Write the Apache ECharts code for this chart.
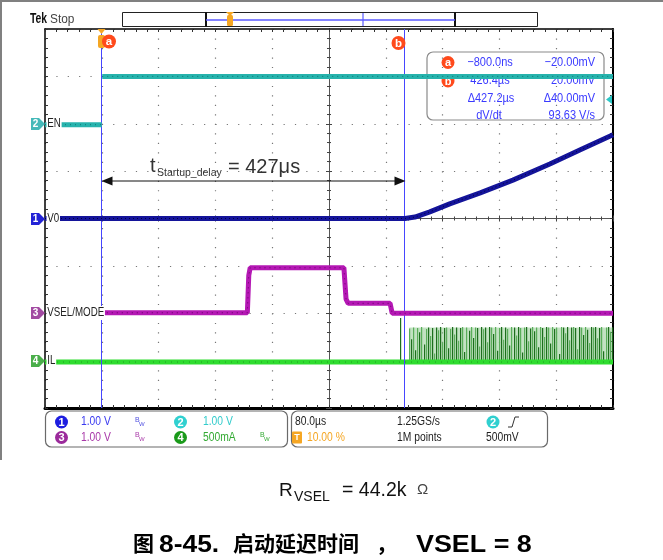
<!DOCTYPE html>
<html>
<head>
<meta charset="utf-8">
<title>启动延迟时间，VSEL = 8</title>
<style>
html, body {margin: 0; padding: 0; background: #fff;}
#main {width: 663px; height: 560px;}
</style>
</head>
<body>
<div id="main"></div>
<script src="https://cdn.jsdelivr.net/npm/echarts@6/dist/echarts.min.js"></script>
<script>
// time in µs from the trigger (80 µs/div), vertical in scope divisions
var timeMin = -80, timeMax = 720, timeDiv = 80;
var divMin = -4, divMax = 4;

var cursorA = -0.8;     // µs
var cursorB = 426.4;    // µs

// CH2 EN (fast edge, not drawn by the scope)
var enT = [-80, 0, 0.3, 0.6, 720];
var enV = [1.98, 1.98, '-', 3.0, 3.0];
// CH1 V0
var v0T = [-80, 427, 441, 462, 490, 533, 579, 631, 674, 720];
var v0V = [0, 0, 0.03, 0.14, 0.31, 0.54, 0.81, 1.15, 1.45, 1.77];
// CH3 VSEL/MODE
var vselT = [0, 205, 207, 209, 341, 344, 347, 406, 409, 720];
var vselV = [-1.99, -1.99, -1.2, -1.04, -1.04, -1.7, -1.79, -1.79, -2.0, -2.0];
// CH4 IL
var ilLevel = -3.03;
var ilT = [-80, 720];
var ilV = [ilLevel, ilLevel];
var ilKickT = 420, ilKickV = -2.1;
var ilSwStart = 433, ilSwEnd = 720, ilSwTop = -2.3, ilSwStep = 2.88;
var ilPeaks = [
  -2.32, -2.55, -2.30, -2.78, -2.31, -2.40, -2.29, -2.66, -2.33, -2.30,
  -2.48, -2.31, -2.85, -2.30, -2.36, -2.29, -2.62, -2.31, -2.30, -2.74,
  -2.33, -2.29, -2.45, -2.30, -2.58, -2.31, -2.29, -2.82, -2.30, -2.37,
  -2.29, -2.52, -2.30, -2.31, -2.70, -2.29, -2.34, -2.30, -2.61, -2.29,
  -2.30, -2.44, -2.29, -2.79, -2.31, -2.29, -2.56, -2.30, -2.33, -2.68,
  -2.29, -2.30, -2.47, -2.29, -2.31, -2.83, -2.30, -2.29, -2.59, -2.32,
  -2.29, -2.38, -2.30, -2.72, -2.29, -2.31, -2.50, -2.29, -2.30, -2.64,
  -2.29, -2.33, -2.30, -2.86, -2.29, -2.30, -2.42, -2.29, -2.57, -2.30,
  -2.29, -2.31, -2.76, -2.29, -2.30, -2.46, -2.29, -2.35, -2.63, -2.29,
  -2.30, -2.29, -2.53, -2.31, -2.29, -2.80, -2.30, -2.29, -2.39, -2.30
];

var cBlue = '#14149a', cTeal = '#27b3ad', cMag = '#b418b4', cGreen = '#2fdc2f';
var ilLight = '#5aae5a', ilDark = '#1d6e1d';
var sans = '"Liberation Sans", Arial, sans-serif';
var cjk = '"Noto Sans CJK SC", sans-serif';

function pairs(t, v) { return t.map(function (x, i) { return [x, v[i]]; }); }

var ilSpikes = ilPeaks.map(function (p, i) { return [ilSwStart + i * ilSwStep, p, i]; });
ilSpikes.push([ilKickT, ilKickV, 1]);

var chart = echarts.init(document.getElementById('main'));

function xAx(o) {
  return Object.assign({
    type: 'value', min: timeMin, max: timeMax, interval: timeDiv,
    axisLabel: {show: false},
    axisLine: {onZero: false, lineStyle: {color: '#000', width: 1.5}},
    axisTick: {show: true, inside: true, length: 3, lineStyle: {color: '#333'}},
    minorTick: {show: true, splitNumber: 5, length: 3, lineStyle: {color: '#333'}},
    splitLine: {show: false}
  }, o);
}
function yAx(o) {
  return Object.assign({
    type: 'value', min: divMin, max: divMax, interval: 1,
    axisLabel: {show: false},
    axisLine: {onZero: false, lineStyle: {color: '#000', width: 1.5}},
    axisTick: {show: true, inside: true, length: 3, lineStyle: {color: '#333'}},
    minorTick: {show: true, splitNumber: 5, length: 3, lineStyle: {color: '#333'}},
    splitLine: {show: false}
  }, o);
}
var centerTick = {show: true, splitNumber: 5, length: 2, lineStyle: {color: '#444'}};

var option = {
  animation: false,
  backgroundColor: '#fff',
  grid: {left: 45, top: 29, width: 568, height: 379},
  xAxis: [
    xAx({position: 'bottom', axisLine: {onZero: false, lineStyle: {color: '#000', width: 3}},
      splitLine: {show: true, lineStyle: {color: '#777', width: 1.2, type: [1.2, 8.28]}}}),
    xAx({position: 'top'}),
    xAx({position: 'bottom', axisLine: {onZero: true, lineStyle: {color: '#555', width: 1}},
      minorTick: centerTick, axisTick: {inside: true, length: 3, lineStyle: {color: '#444'}}}),
    xAx({position: 'bottom', axisLine: {onZero: true, lineStyle: {color: '#555', width: 1}},
      minorTick: centerTick, axisTick: {inside: false, length: 3, lineStyle: {color: '#444'}}}),
    {type: 'value', min: -400, max: 400, show: false}
  ],
  yAxis: [
    yAx({position: 'left', splitLine: {show: true, lineStyle: {color: '#777', width: 1.2, type: [1.2, 10.16]}}}),
    yAx({position: 'right', axisLine: {onZero: false, lineStyle: {color: '#000', width: 2}}}),
    yAx({position: 'left', axisLine: {onZero: true, onZeroAxisIndex: 4, lineStyle: {color: '#555', width: 1}},
      minorTick: centerTick, axisTick: {inside: true, length: 3, lineStyle: {color: '#444'}}}),
    yAx({position: 'left', axisLine: {onZero: true, onZeroAxisIndex: 4, lineStyle: {color: '#555', width: 1}},
      minorTick: centerTick, axisTick: {inside: false, length: 3, lineStyle: {color: '#444'}}})
  ],
  series: [
    {
      name: 'IL switching', type: 'custom', z: 3, data: ilSpikes,
      renderItem: function (params, api) {
        var top = api.coord([api.value(0), api.value(1)]);
        var bot = api.coord([api.value(0), ilLevel]);
        return {type: 'rect', shape: {x: Math.round(top[0]), y: top[1], width: 1.2, height: bot[1] - top[1]},
          style: {fill: api.value(2) % 2 ? ilDark : ilLight}};
      }
    },
    {name: 'IL', type: 'line', z: 4, data: pairs(ilT, ilV), showSymbol: false, lineStyle: {color: cGreen, width: 5},
      markArea: {silent: true, itemStyle: {color: 'rgba(120,190,120,0.45)'},
        data: [[{coord: [ilSwStart, ilSwTop]}, {coord: [ilSwEnd, ilLevel]}]]}},
    {name: 'IL dots', type: 'line', z: 4, data: pairs(ilT, ilV), showSymbol: false, lineStyle: {color: '#1f9a1f', width: 1, type: [1, 5]}},
    {name: 'VSEL', type: 'line', z: 5, data: pairs(vselT, vselV), showSymbol: false, lineStyle: {color: cMag, width: 5}},
    {name: 'VSEL dots', type: 'line', z: 5, data: pairs(vselT, vselV), showSymbol: false, lineStyle: {color: '#6a006a', width: 1, type: [1, 4]}},
    {name: 'V0', type: 'line', z: 6, data: pairs(v0T, v0V), showSymbol: false, lineStyle: {color: cBlue, width: 5}},
    {name: 'V0 dots', type: 'line', z: 6, data: pairs(v0T, v0V), showSymbol: false, lineStyle: {color: '#000040', width: 1, type: [1, 3]}},
    {name: 'EN', type: 'line', z: 7, data: pairs(enT, enV), showSymbol: false, connectNulls: false, lineStyle: {color: cTeal, width: 5}},
    {name: 'EN dots', type: 'line', z: 7, data: pairs(enT, enV), showSymbol: false, connectNulls: false, lineStyle: {color: '#0d7a76', width: 1, type: [1, 4]}},
    {
      name: 'cursors', type: 'line', z: 9, data: [],
      markLine: {silent: true, symbol: 'none', label: {show: false},
        lineStyle: {color: '#4646ff', width: 1, type: 'solid'},
        data: [{xAxis: cursorA}, {xAxis: cursorB}]}
    }
  ]
};
chart.setOption(option);

function px(t, v) { return chart.convertToPixel({xAxisIndex: 0, yAxisIndex: 0}, [t, v]); }
// text helper; sx < 1 gives the scope's condensed look
function T(x, y, s, size, fill, align, opt) {
  opt = opt || {};
  var st = {text: s, fill: fill, font: (opt.weight || 'normal') + ' ' + size + 'px ' + (opt.family || sans),
    textAlign: align || 'left', align: align || 'left', textVerticalAlign: 'middle', verticalAlign: 'middle'};
  if (opt.bg) { st.backgroundColor = opt.bg; st.padding = [1, 1, 0, 1]; }
  return {type: 'text', x: x, y: y, z: opt.z || 20, silent: true, scaleX: opt.sx || 1, style: st};
}
function circ(cx, cy, r, fill, z) { return {type: 'circle', z: z || 20, silent: true, shape: {cx: cx, cy: cy, r: r}, style: {fill: fill}}; }
function ln(x1, y1, x2, y2, stroke, w, z) {
  return {type: 'line', z: z || 20, silent: true, shape: {x1: x1, y1: y1, x2: x2, y2: y2}, style: {stroke: stroke, lineWidth: w}};
}
function badge(cx, cy, r, fill, s, size, z) {
  return [circ(cx, cy, r, fill, z), T(cx, cy + 0.5, s, size, '#fff', 'center', {weight: 'bold', z: (z || 20) + 1})];
}

var g = [];
// outer frame
g.push(ln(0, 1, 663, 1, '#808080', 2, 1));
g.push(ln(1, 0, 1, 460, '#808080', 2, 1));

// header
g.push(T(30, 19, 'Tek', 14, '#111', 'left', {weight: 'bold', sx: 0.74}));
g.push(T(50, 19.5, 'Stop', 12.5, '#444', 'left', {sx: 0.95}));
g.push({type: 'rect', z: 20, silent: true, shape: {x: 122.5, y: 12.5, width: 415, height: 14}, style: {fill: 'none', stroke: '#222', lineWidth: 1}});
g.push(ln(206, 12, 206, 27, '#111', 2));
g.push(ln(455, 12, 455, 27, '#111', 2));
g.push(ln(206, 20, 455, 20, '#5a5aff', 1.5));
g.push(ln(363, 13, 363, 26, '#5a5aff', 1.2));
g.push({type: 'rect', z: 21, silent: true, shape: {x: 227, y: 15, width: 6, height: 11, r: 1.5}, style: {fill: '#f5a623'}});
g.push({type: 'polygon', z: 21, silent: true, shape: {points: [[226, 12], [234, 12], [230, 16]]}, style: {fill: '#f5a623'}});

// trigger / cursor badges in plot
var pa = px(cursorA, 0), pb = px(cursorB, 0);
var xa = Math.round(pa[0]) + 0.5, xb = Math.round(pb[0]) + 0.5;
g.push({type: 'polygon', z: 21, silent: true, shape: {points: [[xa - 4, 29], [xa + 4, 29], [xa, 34]]}, style: {fill: '#f5a623'}});
g.push({type: 'rect', z: 21, silent: true, shape: {x: xa - 3.5, y: 35, width: 7, height: 13, r: 2}, style: {fill: '#f5a623'}});
g = g.concat(badge(xa + 7.5, 41.5, 7, '#ff4a1c', 'a', 11.5, 22));
g = g.concat(badge(xb - 7, 43, 7, '#ff4a1c', 'b', 11.5, 22));

// measurement readout
g.push({type: 'rect', z: 1, silent: true, shape: {x: 427, y: 52, width: 177, height: 68, r: 6}, style: {fill: 'none', stroke: '#8a8a8a', lineWidth: 1.2}});
var mc = '#3a3aff', mo = {sx: 0.88, z: 2};
g = g.concat(badge(448, 62.5, 6.5, '#ff4a1c', 'a', 11, 2));
g = g.concat(badge(448, 81, 6.5, '#ff4a1c', 'b', 11, 2));
g.push(T(490, 62.5, '\u2212800.0ns', 12.5, mc, 'center', mo));
g.push(T(595, 62.5, '\u221220.00mV', 12.5, mc, 'right', mo));
g.push(T(490, 81, '426.4\u00b5s', 12.5, mc, 'center', mo));
g.push(T(595, 81, '20.00mV', 12.5, mc, 'right', mo));
g.push(T(491, 99, '\u0394427.2\u00b5s', 12.5, mc, 'center', mo));
g.push(T(595, 99, '\u039440.00mV', 12.5, mc, 'right', mo));
g.push(T(489, 116, 'dV/dt', 12.5, mc, 'center', mo));
g.push(T(595, 116, '93.63 V/s', 12.5, mc, 'right', mo));
g.push({type: 'polygon', z: 21, silent: true, shape: {points: [[612, 95], [606, 99.5], [612, 104]]}, style: {fill: '#2cc8c8'}});

// channel markers and labels
var chans = [
  {n: '2', lvl: 2, col: '#45b9b9', label: 'EN'},
  {n: '1', lvl: 0, col: '#2323d6', label: 'V0'},
  {n: '3', lvl: -2, col: '#a24aa2', label: 'VSEL/MODE'},
  {n: '4', lvl: -3, col: '#4aae4a', label: 'IL'}
];
chans.forEach(function (c) {
  var y = Math.round(px(0, c.lvl)[1]);
  g.push({type: 'polygon', z: 21, silent: true, shape: {points: [[31, y - 6], [39, y - 6], [45, y], [39, y + 6], [31, y + 6]]}, style: {fill: c.col}});
  g.push(T(35.5, y + 0.5, c.n, 10, '#fff', 'center', {weight: 'bold', z: 22}));
  g.push(T(46.5, y, c.label, 12.5, '#222', 'left', {sx: 0.78, bg: '#fff', z: 22}));
});

// startup delay annotation
var ay = 181;
g.push(ln(xa + 8, ay, xb - 8, ay, '#111', 1, 22));
g.push({type: 'polygon', z: 22, silent: true, shape: {points: [[xa, ay], [xa + 11, ay - 4.5], [xa + 11, ay + 4.5]]}, style: {fill: '#111'}});
g.push({type: 'polygon', z: 22, silent: true, shape: {points: [[xb, ay], [xb - 11, ay - 4.5], [xb - 11, ay + 4.5]]}, style: {fill: '#111'}});
g.push(T(150, 166, 't', 20, '#333', 'left', {z: 22}));
g.push(T(157, 173, 'Startup_delay', 10.5, '#333', 'left', {z: 22}));
g.push(T(228, 167, '= 427\u03bcs', 20, '#333', 'left', {z: 22}));

// bottom status boxes
g.push({type: 'rect', z: 20, silent: true, shape: {x: 45.5, y: 411, width: 242, height: 36, r: 6}, style: {fill: 'none', stroke: '#6a6a6a', lineWidth: 1.2}});
g.push({type: 'rect', z: 20, silent: true, shape: {x: 291.5, y: 411, width: 256, height: 36, r: 6}, style: {fill: 'none', stroke: '#6a6a6a', lineWidth: 1.2}});
var r1 = 422, r2 = 437.5, bo = {sx: 0.86};
function bw(x, y, col) {
  return [T(x, y - 2, 'B', 7, col), T(x + 4, y + 2, 'W', 6, col)];
}
g = g.concat(badge(61.5, r1, 6.5, '#1e1ee0', '1', 11));
g.push(T(81, r1, '1.00 V', 12, '#3a3af0', 'left', bo));
g = g.concat(bw(135, r1, '#5050e0'));
g = g.concat(badge(180.5, r1, 6.5, '#30d0d0', '2', 11));
g.push(T(203, r1, '1.00 V', 12, '#33cccc', 'left', bo));
g = g.concat(badge(61.5, r2, 6.5, '#9b2a9b', '3', 11));
g.push(T(81, r2, '1.00 V', 12, '#a838a8', 'left', bo));
g = g.concat(bw(135, r2, '#a838a8'));
g = g.concat(badge(180.5, r2, 6.5, '#1a9a1a', '4', 11));
g.push(T(203, r2, '500mA', 12, '#33aa33', 'left', bo));
g = g.concat(bw(260, r2, '#33aa33'));

g.push(T(295, r1, '80.0\u00b5s', 12, '#222', 'left', bo));
g.push(T(397, r1, '1.25GS/s', 12, '#222', 'left', bo));
g = g.concat(badge(493, r1, 6.5, '#30d0d0', '2', 11));
g.push({type: 'polyline', z: 20, silent: true, shape: {points: [[508, r1 + 5], [512, r1 + 5], [515, r1 - 5], [519, r1 - 5]]}, style: {stroke: '#333', lineWidth: 1, fill: 'none'}});
g.push({type: 'rect', z: 20, silent: true, shape: {x: 292, y: r2 - 6, width: 10, height: 12, r: 1}, style: {fill: '#f5a623'}});
g.push(T(297, r2 + 0.5, 'T', 9, '#fff', 'center', {weight: 'bold', z: 21}));
g.push(T(307, r2, '10.00 %', 12, '#f5a623', 'left', bo));
g.push(T(397, r2, '1M points', 12, '#222', 'left', bo));
g.push(T(486, r2, '500mV', 12, '#222', 'left', bo));

// caption
g.push(T(279, 491, 'R', 19, '#111'));
g.push(T(294, 497, 'VSEL', 14, '#111'));
g.push(T(342, 491, '= 44.2k', 19.5, '#111'));
g.push(T(417, 490, '\u03a9', 15, '#444'));
g.push(T(133, 543, '\u56fe', 21, '#000', 'left', {family: cjk, weight: 'bold'}));
g.push(T(159, 545.5, '8-45.', 24, '#000', 'left', {weight: 'bold', sx: 1.1}));
g.push(T(233, 543, '\u542f\u52a8\u5ef6\u8fdf\u65f6\u95f4', 21, '#000', 'left', {family: cjk, weight: 'bold'}));
g.push(T(376, 543, '\uff0c', 21, '#000', 'left', {family: cjk, weight: 'bold'}));
g.push(T(416, 545.5, 'VSEL = 8', 24, '#000', 'left', {weight: 'bold', sx: 1.12}));

chart.setOption({graphic: {elements: g}});
</script>
</body>
</html>
